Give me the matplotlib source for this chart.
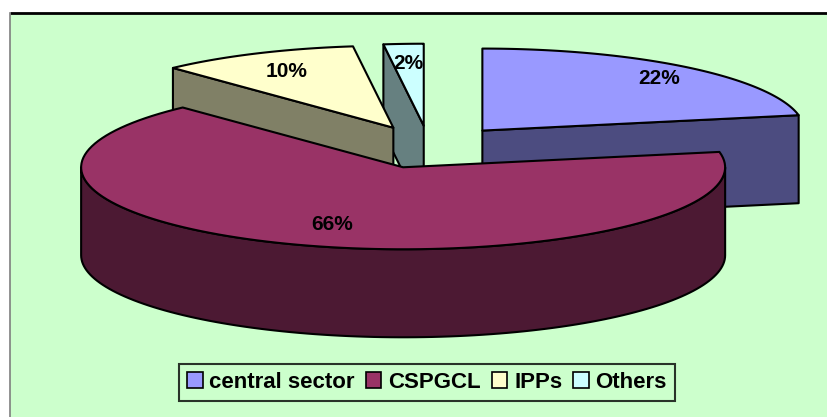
import numpy as np
import matplotlib
matplotlib.use("Agg")
import matplotlib.pyplot as plt
from matplotlib.patches import Polygon, Rectangle, Patch

sources = ["central sector", "CSPGCL", "IPPs", "Others"]
shares = [22, 66, 10, 2]
top_colors = ["#9999FF", "#993366", "#FFFFCC", "#CCFFFF"]
side_colors = ["#4C4C80", "#4C1933", "#808066", "#668080"]

# pie geometry in pixel units (y grows downward)
CX, CY = 429, 147
RX, RY = 322, 82
DEPTH = 88
EXPLODE = 0.26
label_frac = [0.86, 0.71, 0.78, 0.78]
draw_order = [0, 3, 2, 1]

plt.rcParams["font.family"] = ["Liberation Sans", "DejaVu Sans"]

fig = plt.figure(figsize=(8.27, 4.17), dpi=100, facecolor="white")
ax = fig.add_axes([0, 0, 1, 1])
ax.set_xlim(0, 827)
ax.set_ylim(417, 0)
ax.axis("off")

# chart area
ax.add_patch(Rectangle((9.5, 12.5), 830, 420, facecolor="#CCFFCC", edgecolor="none"))
ax.plot([9.5, 830], [12.5, 12.5], color="black", lw=2, solid_capstyle="butt")
ax.plot([9.5, 9.5], [12.5, 420], color="#7f7f7f", lw=1.2)


def ellipse_pts(cx, cy, t0, t1, n=120):
    t = np.radians(np.linspace(t0, t1, n))
    return np.column_stack([cx + RX * np.sin(t), cy - RY * np.cos(t)])


total = sum(shares)
bounds = np.concatenate([[0], np.cumsum(shares) / total * 360])

edge = dict(edgecolor="black", lw=1.5, joinstyle="round")
for i in draw_order:
    a1, a2 = bounds[i], bounds[i + 1]
    mid = np.radians((a1 + a2) / 2)
    cx = CX + RX * EXPLODE * np.sin(mid)
    cy = CY - RY * EXPLODE * np.cos(mid)
    down = np.array([0, DEPTH])

    # radial cut faces
    if np.sin(np.radians(a1)) < -1e-9:
        p = ellipse_pts(cx, cy, a1, a1, 1)[0]
        ax.add_patch(Polygon([(cx, cy), p, p + down, (cx, cy + DEPTH)],
                             facecolor=side_colors[i], **edge))
    if np.sin(np.radians(a2)) > 1e-9:
        p = ellipse_pts(cx, cy, a2, a2, 1)[0]
        ax.add_patch(Polygon([(cx, cy), p, p + down, (cx, cy + DEPTH)],
                             facecolor=side_colors[i], **edge))

    # outer rim facing the viewer
    lo, hi = max(a1, 90), min(a2, 270)
    if lo < hi:
        rim = ellipse_pts(cx, cy, lo, hi)
        ax.add_patch(Polygon(np.vstack([rim, rim[::-1] + down]),
                             facecolor=side_colors[i], **edge))

    # top face
    top = np.vstack([[cx, cy], ellipse_pts(cx, cy, a1, a2)])
    ax.add_patch(Polygon(top, facecolor=top_colors[i], **edge))

    f = label_frac[i]
    ax.text(cx + RX * f * np.sin(mid), cy - RY * f * np.cos(mid) + 2,
            f"{shares[i]}%", ha="center", va="center",
            fontsize=15, fontweight="bold", color="black")

handles = [Patch(facecolor=c, edgecolor="black", lw=1.2) for c in top_colors]
leg = ax.legend(handles, sources, loc="center", bbox_to_anchor=(427, 382.5),
                bbox_transform=ax.transData, ncol=4, frameon=True,
                fancybox=False, shadow=False, handlelength=0.7, handleheight=0.7,
                handletextpad=0.3, columnspacing=0.5, borderpad=0.35,
                borderaxespad=0, prop={"weight": "bold", "size": 16})
leg.get_frame().set_facecolor("#CCFFCC")
leg.get_frame().set_edgecolor("black")
leg.get_frame().set_linewidth(1.5)

fig.savefig("out.png", dpi=100, facecolor="white")
